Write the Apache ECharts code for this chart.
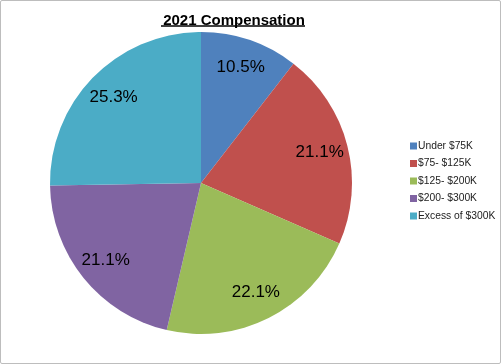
<!DOCTYPE html>
<html>
<head>
<meta charset="utf-8">
<script src="https://cdn.jsdelivr.net/npm/echarts@6/dist/echarts.min.js"></script>
<style>
html,body{margin:0;padding:0;background:#fff;}
#chart{width:501px;height:364px;box-sizing:border-box;border:1px solid #bdbdbd;border-radius:2px;}
</style>
</head>
<body>
<div id="chart"></div>
<script>
var titleText = '2021 Compensation';
var categories = ['Under $75K', '$75- $125K', '$125- $200K', '$200- $300K', 'Excess of $300K'];
var shares = [10.5, 21.1, 22.1, 21.1, 25.3];
var colors = ['#4F81BD', '#C0504D', '#9BBB59', '#8064A2', '#4BACC6'];

var data = categories.map(function (c, i) { return { name: c, value: shares[i] }; });
var font = '"Liberation Sans", Arial, sans-serif';

var chart = echarts.init(document.getElementById('chart'), null, { renderer: 'canvas' });
chart.setOption({
  animation: false,
  color: colors,
  title: {
    text: titleText,
    left: 228, top: 7,
    textAlign: 'center',
    textStyle: { fontFamily: font, fontSize: 15, fontWeight: 'bold', color: '#000' }
  },
  graphic: [{
    type: 'line', shape: { x1: 160, y1: 25, x2: 304, y2: 25 },
    style: { stroke: '#000', lineWidth: 1.5 }
  }],
  legend: {
    orient: 'vertical',
    left: 404, top: 135,
    itemWidth: 7, itemHeight: 7, itemGap: 7.5,
    icon: 'rect',
    data: categories,
    textStyle: { fontFamily: font, fontSize: 10.3, color: '#222', padding: [0, 0, 0, -4] }
  },
  series: [{
    type: 'pie',
    center: [200, 182],
    radius: [0, 151],
    startAngle: 90,
    clockwise: true,
    data: data,
    label: { show: false },
    labelLine: { show: false },
    itemStyle: { borderWidth: 0 },
    emphasis: { disabled: true }
  }, {
    type: 'pie',
    center: [200, 182],
    radius: [88, 151],
    startAngle: 90,
    clockwise: true,
    silent: true,
    data: data,
    itemStyle: { color: 'rgba(0,0,0,0)', borderWidth: 0 },
    label: {
      show: true, position: 'inside',
      formatter: function (p) { return p.value.toFixed(1) + '%'; },
      fontFamily: font, fontSize: 17, color: '#000'
    },
    labelLine: { show: false },
    emphasis: { disabled: true }
  }]
});
</script>
</body>
</html>
